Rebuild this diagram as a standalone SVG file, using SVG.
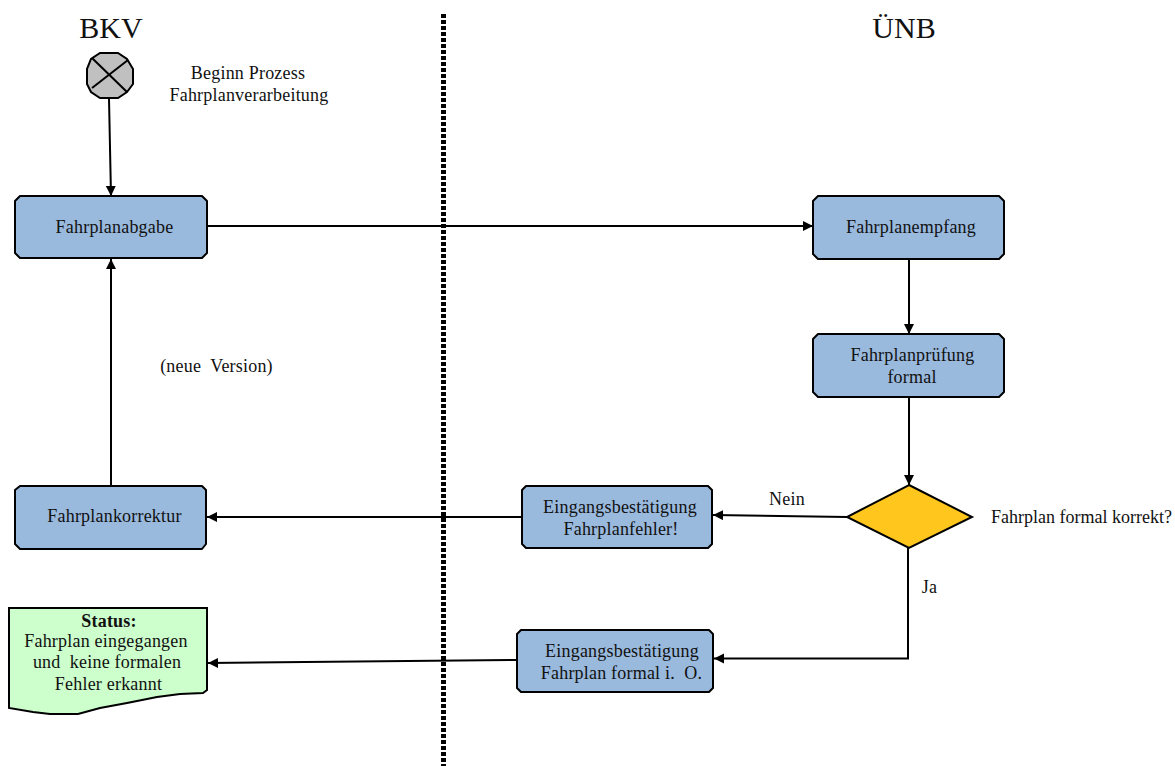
<svg xmlns="http://www.w3.org/2000/svg" width="1175" height="766" viewBox="0 0 1175 766">
<style>
text{font-family:"Liberation Serif","Times New Roman",serif;font-size:18px;letter-spacing:.2px;fill:#111;text-anchor:middle;white-space:pre}
.h{font-size:30px;letter-spacing:0}
.box{fill:#99b9dd;stroke:#000;stroke-width:2;stroke-linejoin:round}
.c{fill:none;stroke:#000;stroke-width:2}
</style>
<defs><marker id="a" markerUnits="userSpaceOnUse" markerWidth="11" markerHeight="11" refX="10" refY="5" orient="auto"><path d="M0 0L10 5L0 10Z" fill="#000"/></marker></defs>
<rect width="1175" height="766" fill="#fff"/>
<line x1="443.5" y1="14" x2="443.5" y2="766" stroke="#000" stroke-width="5" stroke-dasharray="4 2"/>
<text class="h" x="111" y="38">BKV</text>
<text class="h" x="904" y="38">ÜNB</text>
<g id="connectors">
<path class="c" d="M109 99L111 196" marker-end="url(#a)"/>
<path class="c" d="M207 226H813" marker-end="url(#a)"/>
<path class="c" d="M909 259V334" marker-end="url(#a)"/>
<path class="c" d="M909 397V485" marker-end="url(#a)"/>
<path class="c" d="M847 517L713 515" marker-end="url(#a)"/>
<path class="c" d="M521 517H207" marker-end="url(#a)"/>
<path class="c" d="M111 486V259" marker-end="url(#a)"/>
<path class="c" d="M908 548V658.500H714" marker-end="url(#a)"/>
<path class="c" d="M517 660L208 663" marker-end="url(#a)"/>
</g>
<g id="start"><path d="M100 53H118L127 59L133 69V84L127 92L118 98H100L91 92L87 84V69L91 59Z" fill="#c0c0c0" stroke="#000" stroke-width="2"/><path class="c" d="M92 58L127 92M128 60L92 88"/></g>
<text x="248" y="79">Beginn Prozess</text><text x="249" y="101">Fahrplanverarbeitung</text>
<g id="fahrplanabgabe"><path class="box" d="M20 196H202L207 201V253L202 258H20L15 253V201Z"/><text x="114.500" y="233">Fahrplanabgabe</text></g>
<g id="fahrplanempfang"><path class="box" d="M818 196H999L1004 201V254L999 259H818L813 254V201Z"/><text x="911" y="233">Fahrplanempfang</text></g>
<g id="fahrplanpruefung"><path class="box" d="M818 334H999L1004 339V392L999 397H818L813 392V339Z"/><text x="912.500" y="361">Fahrplanprüfung</text><text x="912" y="383">formal</text></g>
<g id="entscheidung"><path d="M909 485L972 517L909 548L847 517Z" fill="#ffc61e" stroke="#000" stroke-width="2"/></g>
<text x="1081.500" y="523" style="letter-spacing:0">Fahrplan formal korrekt?</text>
<text x="787" y="505">Nein</text><text x="929.500" y="593">Ja</text>
<g id="fehler"><path class="box" d="M526 486H708L712 490V544L708 548H526L522 544V490Z"/><text x="620" y="513">Eingangsbestätigung</text><text x="621" y="535">Fahrplanfehler!</text></g>
<g id="korrektur"><path class="box" d="M20 486H202L206 490V544L202 549H20L15 544V490Z"/><text x="114.500" y="522">Fahrplankorrektur</text></g>
<g id="ok"><path class="box" d="M521 630H709L713 634V688L709 692H521L517 688V634Z"/><text x="622" y="657">Eingangsbestätigung</text><text x="621.500" y="679">Fahrplan formal i.  O.</text></g>
<text x="216.500" y="372">(neue  Version)</text>
<g id="status"><path d="M9 608H207V690L203 693L180 694L157 697L127 703L100 708L78 714H50L33 712L9 708Z" fill="#ccffcc" stroke="#000" stroke-width="2"/><text x="109" y="627" font-weight="bold">Status:</text><text x="106" y="647">Fahrplan eingegangen</text><text x="107" y="668">und  keine formalen</text><text x="108.500" y="690">Fehler erkannt</text></g>
</svg>
